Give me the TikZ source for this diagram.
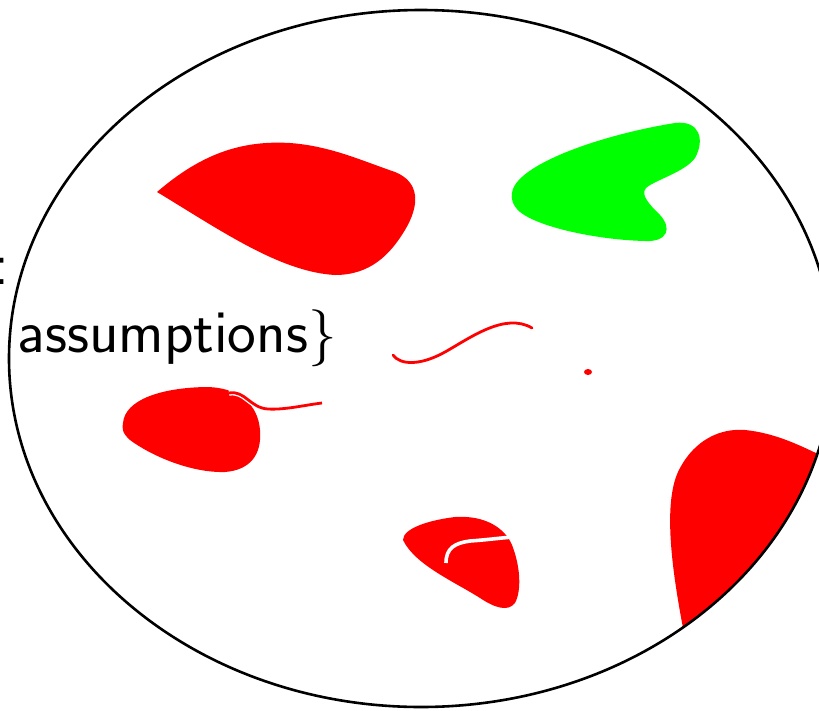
\documentclass[tikz,border=0pt]{standalone}
\begin{document}
\begin{tikzpicture}[x=1pt,y=-1pt,
  blob/.style={fill=red},
  gblob/.style={fill={rgb,255:red,0;green,255;blue,0}},
  thread/.style={draw=red, line width=2.8pt},
  gap/.style={draw=white, line width=3.6pt},
  bigtext/.style={font=\fontsize{61}{64}\selectfont\sffamily}]
\useasboundingbox (0,0) rectangle (819,710);
\clip (0,0) rectangle (819,710);
\coordinate (c) at (421,358.5);
% top-left red blob
\fill[blob] (157,192) .. controls (200,155) and (240,140) .. (290,143)
  .. controls (330,146) and (360,160) .. (395,172)
  .. controls (420,182) and (420,205) .. (405,230)
  .. controls (390,255) and (370,275) .. (335,275)
  .. controls (280,272) and (220,230) .. (157,192) -- cycle;
% green blob
\fill[gblob] (512,193) .. controls (515,165) and (600,135) .. (675,123)
  .. controls (700,120) and (705,140) .. (695,158)
  .. controls (685,172) and (655,180) .. (646,188)
  .. controls (640,195) and (650,205) .. (660,215)
  .. controls (672,228) and (668,242) .. (645,241)
  .. controls (600,240) and (540,228) .. (520,212)
  .. controls (512,205) and (511,198) .. (512,193) -- cycle;
% left-middle red blob with tail
\fill[blob] (123,423) .. controls (125,400) and (160,388) .. (205,387)
  .. controls (240,387) and (258,405) .. (260,430)
  .. controls (262,455) and (250,470) .. (225,472)
  .. controls (190,473) and (150,455) .. (130,440)
  .. controls (122,433) and (122,428) .. (123,423) -- cycle;
\coordinate (t0) at (229,393);
\coordinate (t1) at (322,403);
\draw[draw=white, line width=5.5pt] (t0) .. controls (245,390) and (250,408) .. (268,409) .. controls (285,410) and (305,405) .. (t1);
\draw[thread] (t0) .. controls (245,390) and (250,408) .. (268,409) .. controls (285,410) and (305,405) .. (t1);
% middle thread and dot
\coordinate (m0) at (393,355);
\coordinate (m1) at (532,328);
\draw[thread, line cap=round] (m0) .. controls (400,365) and (420,366) .. (445,352) .. controls (470,338) and (505,312) .. (m1);
\fill[red] (588,372) ellipse [x radius=4, y radius=3];
% bottom-middle red blob with white cut
\fill[blob] (403,540) .. controls (403,528) and (430,520) .. (455,517)
  .. controls (485,515) and (505,528) .. (512,545)
  .. controls (520,565) and (522,590) .. (515,603)
  .. controls (508,612) and (495,608) .. (480,598)
  .. controls (455,582) and (415,565) .. (403,540) -- cycle;
\coordinate (w0) at (446,563);
\coordinate (w1) at (513,537);
\draw[gap] (w0) .. controls (446,548) and (455,543) .. (470,541) .. controls (485,540) and (500,538) .. (w1);
% right red blob, clipped by the ellipse
\begin{scope}
  \clip (c) ellipse [x radius=412, y radius=348.5];
  \fill[blob] (683,628) .. controls (672,570) and (662,500) .. (680,468)
    .. controls (695,440) and (720,428) .. (745,430)
    .. controls (775,433) and (800,445) .. (830,460) -- (860,660) -- cycle;
\end{scope}
% big ellipse
\draw[line width=2.6pt] (c) ellipse [x radius=412, y radius=348.5];
% texts
\node[bigtext, anchor=base west, inner sep=0pt] (colon) at (-7,284) {:};
\node[bigtext, fill=white, anchor=base west, inner sep=0.5pt] (assum) at (17,352) {assumptions\scalebox{5.7}{\normalsize$\}$}};
\end{tikzpicture}
\end{document}
